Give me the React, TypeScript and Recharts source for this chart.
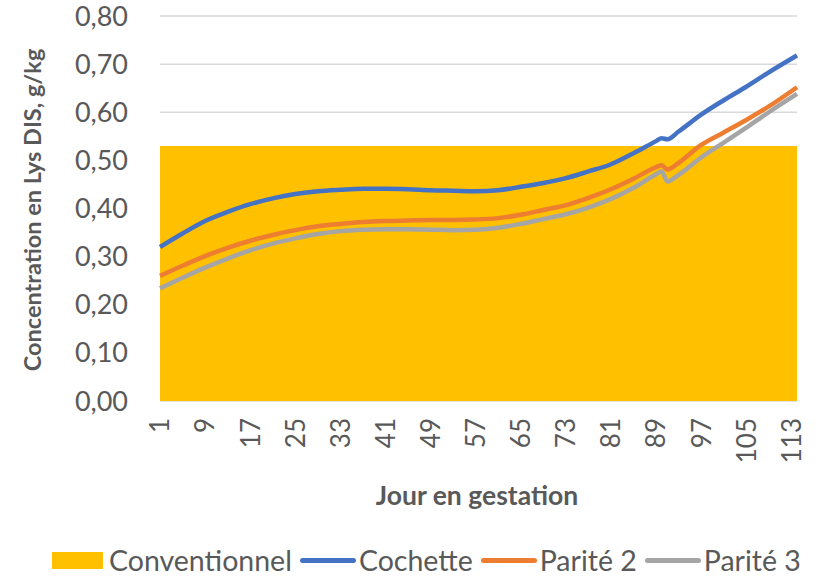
import React from "react";
import { ComposedChart, Area, Line, XAxis, YAxis, CartesianGrid, Label } from "recharts";

const days = [1, 5, 9, 13, 17, 21, 25, 29, 33, 37, 41, 45, 49, 53, 57, 61, 65, 69, 73, 77, 81, 85, 89, 90, 91, 93, 97, 101, 105, 109, 114];
const cochette = [0.320, 0.348, 0.374, 0.393, 0.409, 0.421, 0.430, 0.436, 0.439, 0.441, 0.441, 0.440, 0.438, 0.437, 0.436, 0.438, 0.445, 0.453, 0.463, 0.477, 0.492, 0.515, 0.540, 0.546, 0.544, 0.560, 0.595, 0.625, 0.653, 0.683, 0.718];
const parite2 = [0.260, 0.281, 0.301, 0.318, 0.333, 0.345, 0.355, 0.363, 0.368, 0.372, 0.374, 0.375, 0.376, 0.376, 0.377, 0.380, 0.387, 0.397, 0.407, 0.422, 0.440, 0.462, 0.486, 0.490, 0.481, 0.495, 0.532, 0.558, 0.584, 0.612, 0.652];
const parite3 = [0.234, 0.256, 0.277, 0.296, 0.313, 0.327, 0.338, 0.347, 0.353, 0.356, 0.357, 0.357, 0.356, 0.355, 0.356, 0.360, 0.368, 0.378, 0.388, 0.402, 0.420, 0.443, 0.471, 0.477, 0.456, 0.470, 0.506, 0.537, 0.568, 0.600, 0.638];
const conventionnel = 0.53;
const xTicks = [1, 9, 17, 25, 33, 41, 49, 57, 65, 73, 81, 89, 97, 105, 113];
const yTicks = [0, 0.1, 0.2, 0.3, 0.4, 0.5, 0.6, 0.7, 0.8];

const data = days.map((d, i) => ({
  day: d,
  conventionnel,
  cochette: cochette[i],
  parite2: parite2[i],
  parite3: parite3[i],
}));

const FONT = "Lato, 'Open Sans', sans-serif";
const TXT = "#595959";

const XTick = (props: any) => {
  const { x, payload } = props;
  return (
    <g transform={`translate(${x},418)`}>
      <text transform="rotate(-90)" textAnchor="end" dy="0.36em" fill={TXT} fontSize={26} fontFamily={FONT}>
        {payload.value}
      </text>
    </g>
  );
};

const legendItems = [
  { name: "Conventionnel", color: "#FFC000", type: "rect" },
  { name: "Cochette", color: "#4472C4", type: "line" },
  { name: "Parité 2", color: "#ED7D31", type: "line" },
  { name: "Parité 3", color: "#A5A5A5", type: "line" },
];

export default function App() {
  return (
    <div style={{ position: "absolute", left: 0, top: 0, width: 823, height: 578, background: "#fff" }}>
      <ComposedChart width={823} height={578} data={data} margin={{ top: 16, right: 26, left: 0, bottom: 0 }}>
        <CartesianGrid horizontal vertical={false} stroke="#d9d9d9" strokeWidth={1.5} />
        <XAxis
          dataKey="day"
          type="number"
          domain={[1, 114]}
          ticks={xTicks}
          interval={0}
          height={177}
          axisLine={false}
          tickLine={false}
          tick={<XTick />}
        >
          <Label
            content={() => (
              <text x={477} y={495} textAnchor="middle" dominantBaseline="central" fill={TXT} fontSize={26.5} fontWeight={700} fontFamily={FONT}>
                Jour en gestation
              </text>
            )}
          />
        </XAxis>
        <YAxis
          type="number"
          domain={[0, 0.8]}
          ticks={yTicks}
          width={160}
          axisLine={false}
          tickLine={false}
          tickMargin={26}
          tick={{ fill: TXT, fontSize: 27, fontFamily: FONT }}
          tickFormatter={(v: number) => v.toFixed(2).replace(".", ",")}
        >
          <Label
            content={() => (
              <text x={32} y={210} transform="rotate(-90, 32, 210)" textAnchor="middle" dominantBaseline="central" fill={TXT} fontSize={23.5} fontWeight={700} fontFamily={FONT}>
                Concentration en Lys DIS, g/kg
              </text>
            )}
          />
        </YAxis>
        <Area dataKey="conventionnel" type="linear" fill="#FFC000" fillOpacity={1} stroke="none" isAnimationActive={false} />
        <Line dataKey="cochette" type="monotone" stroke="#4472C4" strokeWidth={4.5} dot={false} isAnimationActive={false} />
        <Line dataKey="parite2" type="monotone" stroke="#ED7D31" strokeWidth={4.5} dot={false} isAnimationActive={false} />
        <Line dataKey="parite3" type="monotone" stroke="#A5A5A5" strokeWidth={4.5} dot={false} isAnimationActive={false} />
      </ComposedChart>
      <div
        style={{
          position: "absolute",
          left: 52,
          top: 543,
          display: "flex",
          alignItems: "center",
          fontFamily: FONT,
          fontSize: 28.5,
          color: TXT,
          whiteSpace: "nowrap",
        }}
      >
        {legendItems.map((it) => (
          <div key={it.name} style={{ display: "flex", alignItems: "center", marginRight: 8 }}>
            {it.type === "rect" ? (
              <div style={{ width: 51, height: 17, background: it.color, marginRight: 6 }} />
            ) : (
              <div style={{ width: 56, height: 5, borderRadius: 3, background: it.color, marginRight: 3 }} />
            )}
            <span>{it.name}</span>
          </div>
        ))}
      </div>
    </div>
  );
}
